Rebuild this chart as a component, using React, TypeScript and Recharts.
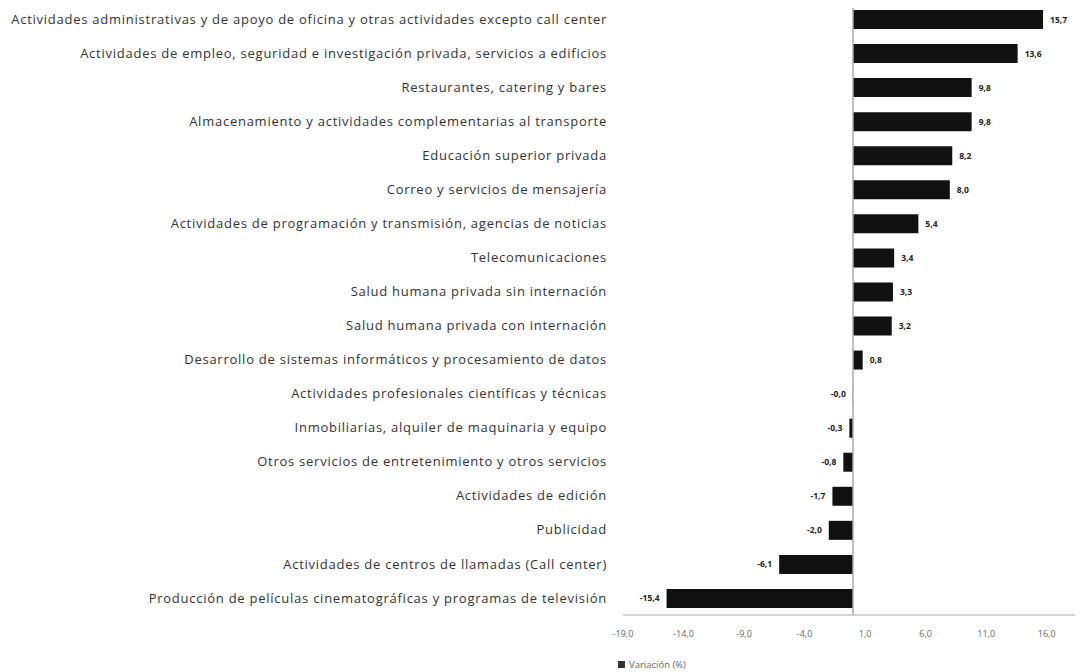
import React from "react";
import { BarChart, Bar, XAxis, YAxis, ReferenceLine, LabelList, Legend } from "recharts";

const categories = [
  "Actividades administrativas y de apoyo de oficina y otras actividades excepto call center",
  "Actividades de empleo, seguridad e investigación privada, servicios a edificios",
  "Restaurantes, catering y bares",
  "Almacenamiento y actividades complementarias al transporte",
  "Educación superior privada",
  "Correo y servicios de mensajería",
  "Actividades de programación y transmisión,  agencias de noticias",
  "Telecomunicaciones",
  "Salud humana privada sin internación",
  "Salud humana privada con internación",
  "Desarrollo de sistemas informáticos y procesamiento de datos",
  "Actividades profesionales científicas y técnicas",
  "Inmobiliarias, alquiler de maquinaria y equipo",
  "Otros servicios de entretenimiento y otros servicios",
  "Actividades de edición",
  "Publicidad",
  "Actividades de centros de llamadas (Call center)",
  "Producción de películas cinematográficas y programas de televisión",
];

const values = [15.7, 13.6, 9.8, 9.8, 8.2, 8.0, 5.4, 3.4, 3.3, 3.2, 0.8, -0.02, -0.3, -0.8, -1.7, -2.0, -6.1, -15.4];

const xTicks = [-19, -14, -9, -4, 1, 6, 11, 16];
const seriesName = "Variación (%)";

const data = categories.map((name, i) => ({ name, value: values[i] }));

const fmt = (v: number) => v.toFixed(1).replace(".", ",");

const FONT = "'Open Sans', 'Noto Sans', sans-serif";

const ValueLabel = (props: any) => {
  const { x, y, width, height, value } = props;
  const a = Number(x);
  const b = Number(x) + Number(width);
  const cy = Number(y) + Number(height) / 2;
  const neg = value < 0;
  const tx = neg ? Math.min(a, b) - 7 : Math.max(a, b) + 7;
  return (
    <text
      x={tx}
      y={cy}
      dy={3}
      textAnchor={neg ? "end" : "start"}
      fontSize={8.5}
      fontWeight={700}
      fill="#222"
      fontFamily={FONT}
    >
      {fmt(value)}
    </text>
  );
};

const LegendContent = () => (
  <div style={{ paddingLeft: 618, paddingTop: 16, height: 32, boxSizing: "border-box", fontFamily: FONT, fontSize: 9.5, color: "#666", display: "flex", alignItems: "center" }}>
    <span style={{ display: "inline-block", width: 7, height: 7, background: "#333", marginRight: 4 }} />
    <span>{seriesName}</span>
  </div>
);

export default function App() {
  return (
    <div style={{ margin: "-8px 0 0 -8px", width: 1083, height: 672, background: "#fff" }}>
      <BarChart
        width={1083}
        height={672}
        data={data}
        layout="vertical"
        margin={{ top: 2, right: 0, bottom: 0, left: 0 }}
        barSize={19}
        style={{ fontFamily: FONT }}
      >
        <XAxis
          type="number"
          domain={[-19, 19]}
          ticks={xTicks}
          tickFormatter={fmt}
          axisLine={{ stroke: "#aaa" }}
          tickLine={false}
          tick={{ fontSize: 9, fill: "#666" }}
          tickMargin={10}
          height={25}
          allowDataOverflow
        />
        <YAxis
          type="category"
          dataKey="name"
          width={623}
          axisLine={false}
          tickLine={false}
          tickSize={0}
          tickMargin={16}
          interval={0}
          tick={{ fontSize: 13, fill: "#333", letterSpacing: 0.75 }}
        />
        <ReferenceLine x={0} stroke="#aaa" strokeWidth={1.5} />
        <Legend verticalAlign="bottom" content={<LegendContent />} height={32} />
        <Bar dataKey="value" name={seriesName} fill="#111" isAnimationActive={false}>
          <LabelList dataKey="value" content={<ValueLabel />} />
        </Bar>
      </BarChart>
    </div>
  );
}
